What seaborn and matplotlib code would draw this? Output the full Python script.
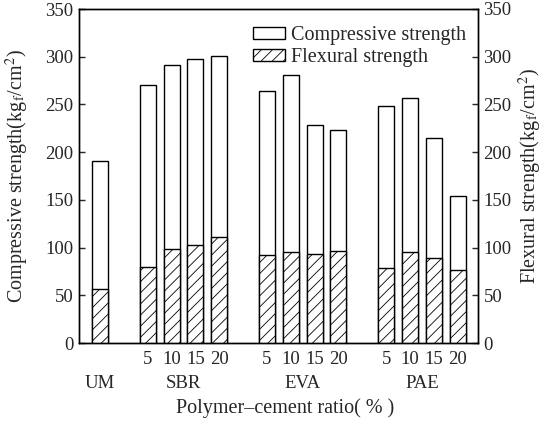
import numpy as np
import pandas as pd
import matplotlib
matplotlib.use("Agg")
import matplotlib.pyplot as plt
from matplotlib.patches import Patch
from matplotlib.transforms import blended_transform_factory
import seaborn as sns

# Data: polymer-modified mortar strengths (kgf/cm^2)
groups = ["UM", "SBR", "EVA", "PAE"]
ratios = ["5", "10", "15", "20"]

comp_um = [191]
comp_sbr = [270, 291, 298, 301]
comp_eva = [264, 281, 228, 223]
comp_pae = [248, 257, 215, 154]

flex_um = [57]
flex_sbr = [80, 98, 103, 111]
flex_eva = [92, 95, 93, 96]
flex_pae = [79, 95, 89, 77]

# Slot positions along the x axis (gaps of one slot between groups)
pos_um = [0]
pos_sbr = [2, 3, 4, 5]
pos_eva = [7, 8, 9, 10]
pos_pae = [12, 13, 14, 15]

positions = pos_um + pos_sbr + pos_eva + pos_pae
compressive = comp_um + comp_sbr + comp_eva + comp_pae
flexural = flex_um + flex_sbr + flex_eva + flex_pae
tick_text = [""] + ratios * 3

df = pd.DataFrame({"pos": positions, "comp": compressive, "flex": flexural})

sns.set_theme(style="white")
plt.rcParams["font.family"] = ["Liberation Serif", "DejaVu Serif"]
plt.rcParams["mathtext.fontset"] = "stix"
plt.rcParams["hatch.linewidth"] = 0.6
plt.rcParams["hatch.color"] = "black"

fig = plt.figure(figsize=(5.43, 4.22), dpi=100)
ax = fig.add_axes([79 / 543, 79 / 422, 399 / 543, 334 / 422])

bar_w = 0.67
sns.barplot(data=df, x="pos", y="comp", native_scale=True, width=bar_w,
            color="white", saturation=1, edgecolor="black", linewidth=1.0,
            errorbar=None, ax=ax)

ax2 = ax.twinx()
sns.barplot(data=df, x="pos", y="flex", native_scale=True, width=bar_w,
            color="white", saturation=1, edgecolor="black", linewidth=1.0,
            hatch="///", errorbar=None, ax=ax2)

for a in (ax, ax2):
    a.set_xlim(-0.88, 15.85)
    a.set_ylim(0, 350)
    a.set_yticks(np.arange(0, 351, 50))
    a.grid(False)
    for s in a.spines.values():
        s.set_color("black")
        s.set_linewidth(1.0)

ax.set_xticks(positions)
ax.set_xticklabels(tick_text, fontsize=13.5)
ax.tick_params(axis="x", length=0, pad=6)
ax.tick_params(axis="y", direction="in", length=4, width=1, labelsize=13.5, pad=4)
ax2.tick_params(axis="y", direction="in", length=4, width=1, labelsize=13.5, pad=4)
ax2.set_xlabel("")

ax.set_xlabel("")
ax.set_ylabel("Compressive strength(kg$_{\\mathrm{f}}$/cm$^2$)", fontsize=14.5)
ax2.set_ylabel("Flexural strength(kg$_{\\mathrm{f}}$/cm$^2$)", fontsize=14.5)
ax.yaxis.set_label_coords(-0.12, 0.5)
ax2.yaxis.set_label_coords(1.098, 0.5)

# Group names below the ratio labels
trans = blended_transform_factory(ax.transData, ax.transAxes)
group_pos = [np.mean(pos_um), np.mean(pos_sbr), np.mean(pos_eva), np.mean(pos_pae)]
for name, gx in zip(groups, group_pos):
    ax.text(gx, -0.122, name, transform=trans, ha="center", va="center", fontsize=13.5)

fig.text(0.525, 0.034, "Polymer\u2013cement ratio( % )", ha="center", va="center", fontsize=14.5)

handles = [
    Patch(facecolor="white", edgecolor="black", linewidth=1.0, label="Compressive strength"),
    Patch(facecolor="white", edgecolor="black", linewidth=1.0, hatch="///", label="Flexural strength"),
]
ax2.legend(handles=handles, loc="upper right", bbox_to_anchor=(1.0, 0.985),
           frameon=False, fontsize=14.5, handlelength=1.6, handleheight=0.6,
           handletextpad=0.3, labelspacing=0.15, borderaxespad=0.2)

fig.savefig("out.png", dpi=100)
